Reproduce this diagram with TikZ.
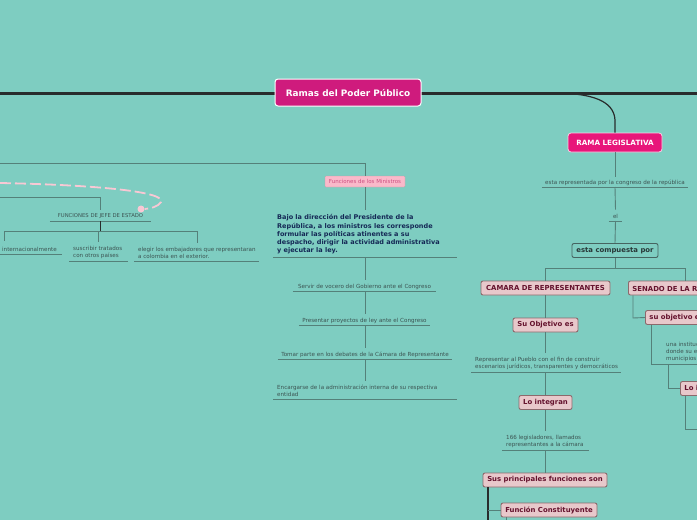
\documentclass[tikz,border=0pt]{standalone}
\usepackage{fontspec}
\setmainfont{DejaVu Sans}
\definecolor{bgc}{RGB}{126,205,193}
\definecolor{linec}{RGB}{84,128,121}
\definecolor{darkl}{RGB}{40,44,44}
\definecolor{rootf}{RGB}{207,27,125}
\definecolor{legf}{RGB}{232,22,122}
\definecolor{pinkf}{RGB}{232,200,203}
\definecolor{pinkd}{RGB}{140,105,108}
\definecolor{maroon}{RGB}{100,18,45}
\definecolor{txtc}{RGB}{60,84,82}
\definecolor{navy}{RGB}{20,40,85}
\definecolor{minf}{RGB}{250,185,202}
\definecolor{mint}{RGB}{205,80,130}
\definecolor{dashp}{RGB}{248,200,212}
\definecolor{compd}{RGB}{70,100,96}
\definecolor{compt}{RGB}{40,55,55}
\begin{document}
\begin{tikzpicture}[x=1pt,y=-1pt,
  conn/.style={draw=linec,line width=0.9pt},
  dconn/.style={draw=darkl,line width=1.1pt},
  rootbox/.style={rounded corners=3pt,fill=rootf,draw=white,line width=1pt,text=white,
    font=\bfseries\fontsize{8.9}{10}\selectfont,minimum width=146pt,minimum height=27pt,inner sep=0pt},
  legbox/.style={rounded corners=3pt,fill=legf,draw=white!80!legf,line width=0.8pt,text=white,
    font=\bfseries\fontsize{7.2}{8}\selectfont,minimum height=19pt,inner sep=0pt},
  pinkbox/.style={rounded corners=2pt,fill=pinkf,draw=pinkd,line width=0.9pt,text=maroon,
    font=\bfseries\fontsize{6.9}{8}\selectfont,minimum height=14pt,inner sep=0pt},
  pinkedge/.style={pinkbox,anchor=west,inner xsep=4pt},
  compbox/.style={rounded corners=2pt,fill=bgc,draw=compd,line width=0.9pt,text=compt,
    font=\bfseries\fontsize{6.9}{8}\selectfont,minimum height=14pt,inner sep=0pt},
  minbox/.style={rounded corners=1pt,fill=minf,draw=minf!80!black,line width=0.3pt,text=mint,
    font=\fontsize{5.5}{6}\selectfont,minimum height=11pt,inner sep=0pt},
  small/.style={text=txtc,font=\fontsize{5.6}{7}\selectfont,inner sep=0pt},
  smallml/.style={small,align=left,anchor=south west},
  bajo/.style={text=navy,font=\bfseries\fontsize{6.5}{8.3}\selectfont,inner sep=0pt,align=left,anchor=south west},
  ul/.style={draw=linec,line width=0.9pt},
  dashline/.style={draw=dashp,line width=1.8pt,dash pattern=on 11pt off 4pt}
]
\path[use as bounding box,clip] (0,0) rectangle (697,520);
\fill[bgc] (0,0) rectangle (697,520);

% ---------- main axis ----------
\coordinate (L0) at (0,93);
\coordinate (R0) at (697,93);
\draw[darkl,line width=3pt] (L0) -- (R0);
\coordinate (b0) at (560,93);
\node[legbox,minimum width=94pt] (leg) at (615,142.5) {RAMA LEGISLATIVA};
\draw[darkl,line width=1.2pt] (b0) .. controls (590,94) and (614,100) .. (615,120) -- (leg.north);
\node[rootbox] (root) at (348,92.5) {Ramas del Poder Público};

% ---------- legislative branch ----------
\node[small,anchor=south,minimum width=146pt,minimum height=8pt] (rep) at (615,187) {esta representada por la congreso de la república};
\draw[ul] (rep.south west) -- (rep.south east);
\draw[conn] (leg.south) -- ([yshift=2pt]rep.north);
\node[small,anchor=south,minimum width=13pt,minimum height=8pt] (el) at (615.5,221) {el};
\draw[ul] (el.south west) -- (el.south east);
\draw[conn] (rep.south) -- ([yshift=3pt]el.north);
\node[compbox,minimum width=86pt] (comp) at (615,250.5) {esta compuesta por};
\draw[conn] (el.south) -- (comp.north);

\node[pinkbox,minimum width=129pt] (cam) at (545.5,288) {CAMARA DE REPRESENTANTES};
\node[pinkedge] (sen) at (628,288) {SENADO DE LA REPÚBLICA};
\coordinate (j0) at (615,268);
\coordinate (jL) at (545.5,268);
\coordinate (jR) at (685,268);
\draw[conn] (comp.south) -- (j0);
\draw[conn] (cam.north) -- (jL) -- (jR) -- (jR |- sen.north);

% camara column
\node[pinkbox,minimum width=65pt] (obj) at (545.5,325) {Su Objetivo es};
\draw[conn] (cam.south) -- (obj.north);
\node[smallml] (repr) at (475,370)
  {Representar al Pueblo con el fin de construir\\escenarios jurídicos, transparentes y democráticos};
\coordinate (reprL) at (471,372.5);
\coordinate (reprR) at (621,372.5);
\draw[ul] (reprL) -- (reprR);
\draw[conn] (obj.south) -- ([yshift=4pt]obj.south |- repr.north);
\node[pinkbox,minimum width=53pt] (integ) at (545.5,402.5) {Lo integran};
\draw[conn] (integ.north |- reprL) -- (integ.north);
\node[smallml] (leg166) at (506,448)
  {166 legisladores, llamados\\representantes a la cámara};
\coordinate (l166L) at (502,450.5);
\coordinate (l166R) at (589,450.5);
\draw[ul] (l166L) -- (l166R);
\draw[conn] (integ.south) -- ([yshift=4pt]integ.south |- leg166.north);
\node[pinkbox,minimum width=124pt] (func) at (545,480) {Sus principales funciones son};
\draw[conn] (func.north |- l166L) -- (func.north);
\node[pinkbox,minimum width=96pt] (fconst) at (549,510) {Función Constituyente};
\coordinate (fA) at (488,487);
\coordinate (fB) at (488,520);
\coordinate (fC) at (488,510);
\draw[dconn] (fA) -- (fB);
\draw[conn] (fC) -- (fconst.west);
\coordinate (fD) at (506,520);
\draw[conn] (fconst.south -| fD) -- (fD);

% senado column
\node[pinkedge] (sobj) at (645,317.5) {su objetivo es};
\coordinate (s1) at (633,318);
\draw[conn] (sen.south -| s1) -- (s1) -- (sobj.west);
\node[smallml] (inst) at (666,362)
  {una institución de\\donde su elección\\municipios};
\coordinate (instL) at (651,364.5);
\coordinate (instR) at (760,364.5);
\draw[ul] (instL) -- (instR);
\draw[conn] (sobj.south -| instL) -- (instL);
\node[pinkedge] (slo) at (680,388.5) {Lo integran};
\coordinate (s3) at (668,364.5);
\draw[conn] (s3) |- (slo.west);
\coordinate (s4) at (685,429);
\coordinate (s5) at (697,429);
\draw[conn] (slo.south -| s4) -- (s4) -- (s5);

% ---------- ministros ----------
\coordinate (m0) at (0,163);
\coordinate (m1) at (365,163);
\node[minbox,minimum width=80pt] (min) at (365,181.5) {Funciones de los Ministros};
\draw[conn] (m0) -- (m1) -- (min.north);
\node[bajo] (bajo) at (277,254.5)
  {Bajo la dirección del Presidente de la\\República, a los ministros les corresponde\\formular las políticas atinentes a su\\despacho, dirigir la actividad administrativa\\y ejecutar la ley.};
\coordinate (bajoL) at (273,257.5);
\coordinate (bajoR) at (457,257.5);
\draw[ul] (bajoL) -- (bajoR);
\draw[conn] (min.south) -- ([yshift=4pt]min.south |- bajo.north);
\node[small,anchor=south,minimum width=143pt,minimum height=8pt] (serv) at (364.5,291.5) {Servir de vocero del Gobierno ante el Congreso};
\draw[ul] (serv.south west) -- (serv.south east);
\draw[conn] (min.south |- bajoL) -- ([yshift=3pt]serv.north -| min.south);
\node[small,anchor=south,minimum width=131pt,minimum height=8pt] (pres) at (364.5,325.5) {Presentar proyectos de ley ante el Congreso};
\draw[ul] (pres.south west) -- (pres.south east);
\draw[conn] (serv.south -| min.south) -- ([yshift=3pt]pres.north -| min.south);
\node[small,anchor=south,minimum width=174pt,minimum height=8pt] (tom) at (365,359.5) {Tomar parte en los debates de la Cámara de Representante};
\draw[ul] (tom.south west) -- (tom.south east);
\draw[conn] (pres.south -| min.south) -- ([yshift=3pt]tom.north -| min.south);
\node[smallml] (enc) at (277,397)
  {Encargarse de la administración interna de su respectiva\\entidad};
\coordinate (encL) at (273,399.5);
\coordinate (encR) at (457,399.5);
\draw[ul] (encL) -- (encR);
\draw[conn] (tom.south -| min.south) -- ([yshift=4pt]enc.north -| min.south);

% ---------- jefe de estado ----------
\coordinate (e0) at (0,197);
\coordinate (e1) at (100,197);
\node[small,anchor=south,minimum width=101pt,minimum height=9pt] (jefe) at (100.5,221) {\fontsize{5.3}{6}\selectfont FUNCIONES DE JEFE DE ESTADO};
\draw[ul] (jefe.south west) -- (jefe.south east);
\draw[conn] (e0) -- (e1) -- ([yshift=2pt]jefe.north -| e1);
\coordinate (h0) at (100,231);
\coordinate (hL) at (4,231);
\coordinate (hM) at (98,231);
\coordinate (hR) at (197,231);
\draw[dconn,line width=0.9pt] (jefe.south -| e1) -- (h0);
\draw[conn] (hL) -- (hR);
\node[small,anchor=south east,minimum height=9pt] (intl) at (62,254.5) {representar a Colombia nacional e internacionalmente\hspace*{5pt}};
\draw[ul] (intl.south west) -- (intl.south east);
\node[smallml] (trat) at (73,259)
  {suscribir tratados\\con otros países};
\coordinate (tratL) at (69,261.5);
\coordinate (tratR) at (128,261.5);
\draw[ul] (tratL) -- (tratR);
\node[smallml] (emb) at (138,259)
  {elegir los embajadores que representaran\\a colombia en el exterior.};
\coordinate (embL) at (134,261.5);
\coordinate (embR) at (259,261.5);
\draw[ul] (embL) -- (embR);
\draw[conn] (hL) -- ([yshift=4pt]hL |- intl.north);
\draw[conn] (hM) -- ([yshift=4pt]hM |- trat.north);
\draw[conn] (hR) -- ([yshift=4pt]hR |- emb.north);

% ---------- dashed pink relationship ----------
\coordinate (d0) at (0,183);
\node[circle,fill=dashp,minimum size=7pt,inner sep=0pt] (dot) at (141,209) {};
\draw[dashline] (d0) .. controls (100,185) and (166,192) .. (161,202) .. controls (158,207) and (150,208.5) .. (dot.east);
\end{tikzpicture}
\end{document}
